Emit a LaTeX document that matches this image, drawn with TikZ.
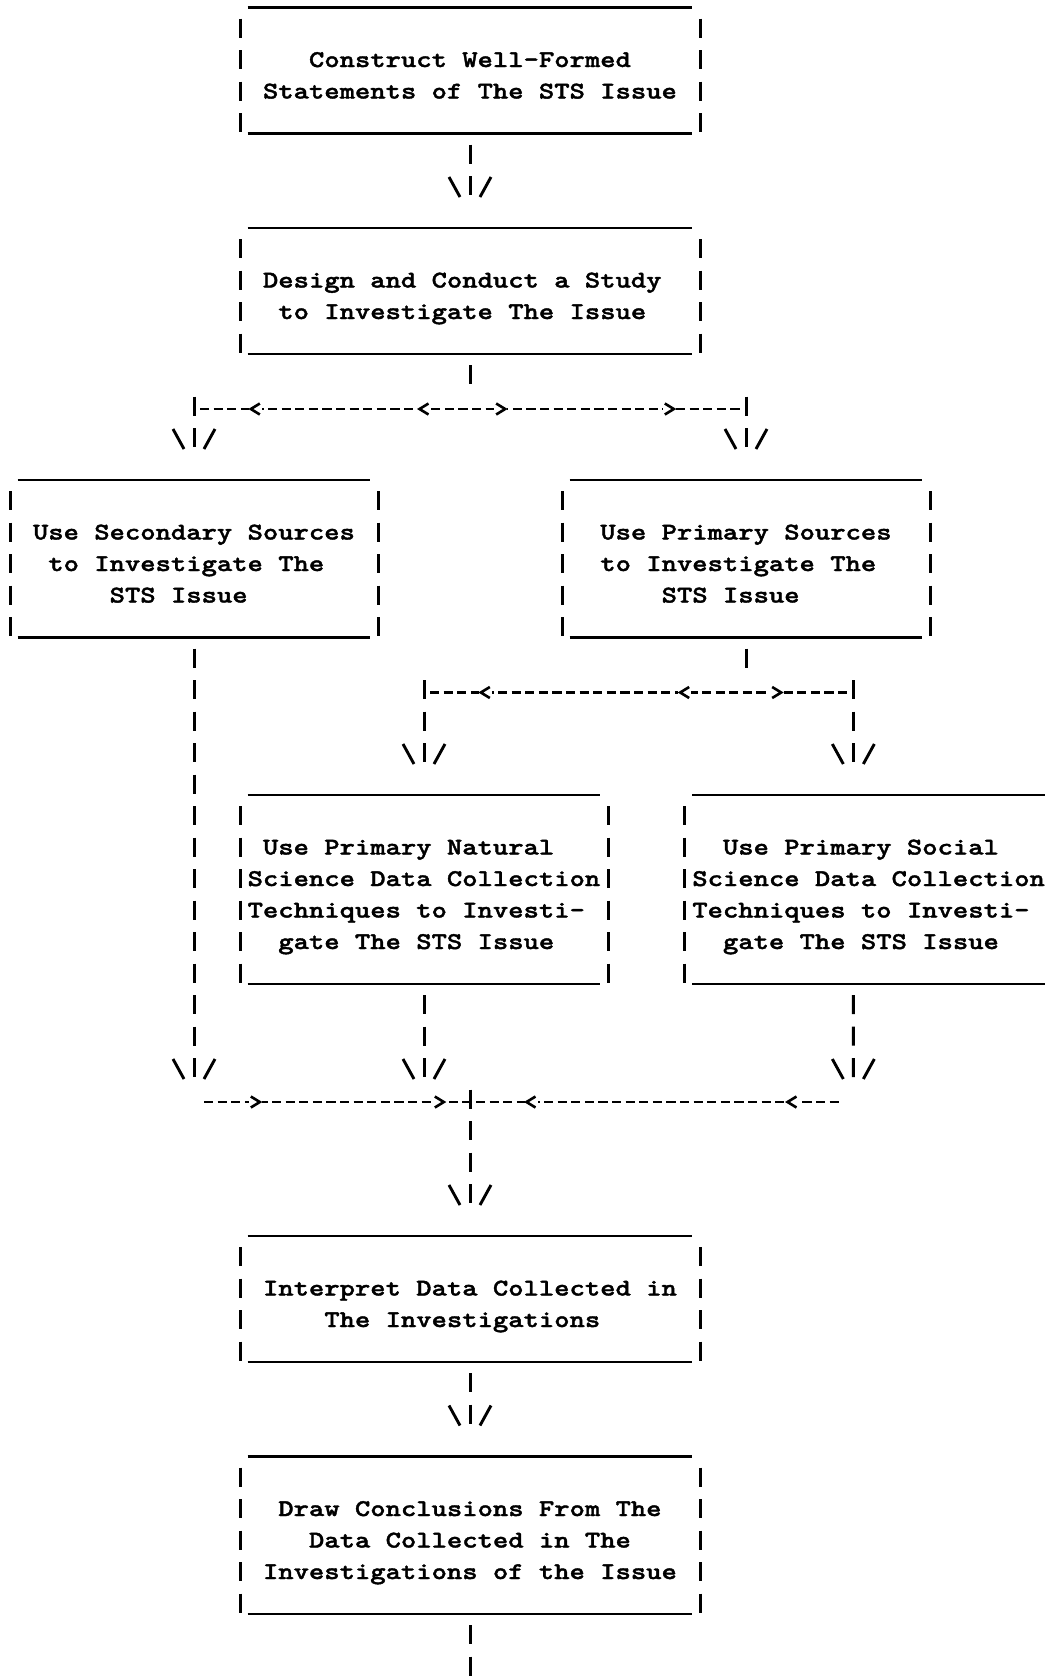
\documentclass[tikz,border=0pt]{standalone}
\usepackage{fontspec}
\newfontfamily\boxfont{lmmonolt10-bold.otf}[FakeStretch=1.2167, FakeBold=1.6]
\newlength\cw \setlength\cw{7.6667pt}
\newcommand\ind[1]{\hspace*{#1\cw}}
\newcommand\fl{\rule{0pt}{11pt}}
\newcommand\stsframe[1]{%
  \draw[rulel] (#1.north west) -- (#1.north east);
  \draw[rulel] (#1.south west) -- (#1.south east);
  \draw[sidebar] (#1.north west) -- (#1.south west);
  \draw[sidebar] (#1.north east) -- (#1.south east);}
\begin{document}
\begin{tikzpicture}[x=0.5pt, y=-0.5pt,
  boxshape/.style={rectangle, inner sep=0pt, outer sep=0pt},
  btext/.style={anchor=north west, inner sep=0pt, outer sep=0pt, align=left,
    font={\boxfont\fontsize{12pt}{15.75pt}\selectfont}},
  rulel/.style={line width=1.3pt, shorten <=3.83pt, shorten >=3.83pt},
  sidebar/.style={line width=1.5pt, dash pattern=on 9.5pt off 6.25pt, dash phase=10.25pt},
  vconn/.style={sidebar},
  hconn/.style={line width=1.35pt, dash pattern=on 4.6pt off 2.2pt, shorten <=3pt, shorten >=3pt},
  tipline/.style={line width=1.45pt},
  chevline/.style={line width=1.3pt},
  vtip/.pic={\draw[tipline] (-21,-18) -- (-10,2); \draw[tipline] (10,2) -- (21,-18);},
  chevleft/.pic={\fill[white] (-6.5,-8) rectangle (6.5,8); \draw[chevline] (4.5,-5.5) -- (-4.5,0) -- (4.5,5.5);},
  chevright/.pic={\fill[white] (-6.5,-8) rectangle (6.5,8); \draw[chevline] (-4.5,-5.5) -- (4.5,0) -- (-4.5,5.5);}
]
\useasboundingbox (0,0) rectangle (1050,1678);
\fill[white] (0,0) rectangle (1050,1678);
\clip (0,0) rectangle (1050,1678);

% ---------- boxes (shapes) ----------
\node[boxshape, minimum width=230pt, minimum height=63pt]    (b1) at (470,70.5) {};
\node[boxshape, minimum width=230pt, minimum height=63pt]    (b2) at (470,291) {};
\node[boxshape, minimum width=184pt, minimum height=78.75pt] (b3) at (194,558.75) {};
\node[boxshape, minimum width=184pt, minimum height=78.75pt] (b4) at (746,558.75) {};
\node[boxshape, minimum width=184pt, minimum height=94.5pt]  (b5) at (424,889.5) {};
\node[boxshape, minimum width=184pt, minimum height=94.5pt]  (b6) at (868.67,889.5) {};
\node[boxshape, minimum width=230pt, minimum height=63pt]    (b7) at (470,1299) {};
\node[boxshape, minimum width=230pt, minimum height=78.75pt] (b8) at (470,1535.25) {};

\stsframe{b1}
\stsframe{b2}
\stsframe{b3}
\stsframe{b4}
\stsframe{b5}
\draw[rulel] (b6.north west) -- (b6.north east);
\draw[rulel] (b6.south west) -- (b6.south east);
\draw[sidebar] (b6.north west) -- (b6.south west);
\stsframe{b7}
\stsframe{b8}

% ---------- box texts ----------
\node[btext] (b1t) at (247.67,45) {\fl\ind{4}Construct Well-Formed\\
  \ind{1}Statements of The STS Issue};
\node[btext] (b2t) at (247.67,265.5) {\fl\ind{1}Design and Conduct a Study\\
  \ind{2}to Investigate The Issue};
\node[btext] (b3t) at (17.67,517.5) {\fl\ind{1}Use Secondary Sources\\
  \ind{2}to Investigate The\\ \ind{6}STS Issue};
\node[btext] (b4t) at (569.67,517.5) {\fl\ind{2}Use Primary Sources\\
  \ind{2}to Investigate The\\ \ind{6}STS Issue};
\node[btext] (b5t) at (247.67,832.5) {\fl\ind{1}Use Primary Natural\\
  Science Data Collection\\ Techniques to Investi-\\ \ind{2}gate The STS Issue};
\node[btext] (b6t) at (692.33,832.5) {\fl\ind{2}Use Primary Social\\
  Science Data Collection\\ Techniques to Investi-\\ \ind{2}gate The STS Issue};
\node[btext] (b7t) at (247.67,1273.5) {\fl\ind{1}Interpret Data Collected in\\
  \ind{5}The Investigations};
\node[btext] (b8t) at (247.67,1494) {\fl\ind{2}Draw Conclusions From The\\
  \ind{4}Data Collected in The\\ \ind{1}Investigations of the Issue};

% ---------- connector coordinates ----------
\coordinate (t1) at (470,195);
\coordinate (j1) at (470,390);
\coordinate (h1l) at (194,409);
\coordinate (h1r) at (746,409);
\coordinate (t3) at (194,447);
\coordinate (t4) at (746,447);
\coordinate (t5) at (194,1077);
\coordinate (j2) at (746,672);
\coordinate (h2l) at (424,692.5);
\coordinate (h2r) at (853.33,692.5);
\coordinate (t7) at (424,762);
\coordinate (t8) at (853.33,762);
\coordinate (t9) at (424,1077);
\coordinate (t10) at (853.33,1077);
\coordinate (h3l) at (204,1102);
\coordinate (h3c) at (470,1102);
\coordinate (h3r) at (843,1102);
\coordinate (t11) at (470,1203);
\coordinate (t12) at (470,1423.5);
\coordinate (e13) at (470,1678);

% ---------- vertical connectors ----------
\draw[vconn] (b1.south) -- (t1);
\pic at (t1) {vtip};
\draw[vconn] (b2.south) -- (j1);
\draw[vconn, dash phase=0pt] (h1l) ++(0,-12.5) -- (t3);
\pic at (t3) {vtip};
\draw[vconn, dash phase=0pt] (h1r) ++(0,-12.5) -- (t4);
\pic at (t4) {vtip};
\draw[vconn] (b3.south) -- (t5);
\pic at (t5) {vtip};
\draw[vconn] (b4.south) -- (j2);
\draw[vconn, dash phase=0pt] (h2l) ++(0,-12.5) -- (t7);
\pic at (t7) {vtip};
\draw[vconn, dash phase=0pt] (h2r) ++(0,-12.5) -- (t8);
\pic at (t8) {vtip};
\draw[vconn] (b5.south) -- (t9);
\pic at (t9) {vtip};
\draw[vconn] ([xshift=-7.6667pt]b6.south) -- (t10);
\pic at (t10) {vtip};
\draw[vconn, dash phase=0pt] (h3c) ++(0,-12.5) -- (t11);
\pic at (t11) {vtip};
\draw[vconn] (b7.south) -- (t12);
\pic at (t12) {vtip};
\draw[vconn] (b8.south) -- (e13);

% ---------- horizontal connectors ----------
\draw[hconn] (h1l) -- (h1r);
\pic at (255.33,409) {chevleft};
\pic at (424,409) {chevleft};
\pic at (500.67,409) {chevright};
\pic at (669.33,409) {chevright};

\draw[hconn] (h2l) -- (h2r);
\pic at (485.33,692.5) {chevleft};
\pic at (684.67,692.5) {chevleft};
\pic at (776.67,692.5) {chevright};

\draw[hconn, shorten <=0pt, shorten >=0pt] (h3l) -- (h3r);
\pic at (255.33,1102) {chevright};
\pic at (439.33,1102) {chevright};
\pic at (531,1102) {chevleft};
\pic at (792,1102) {chevleft};
\end{tikzpicture}
\end{document}
